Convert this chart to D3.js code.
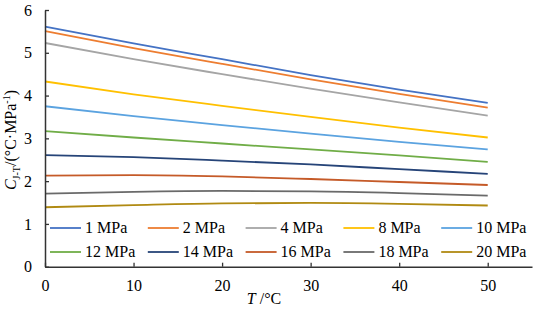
<!DOCTYPE html>
<html>
<head>
<meta charset="utf-8">
<script src="https://cdn.jsdelivr.net/npm/d3@7"></script>
<style>
  body { margin: 0; background: #fff; }
  svg text { font-family: "Liberation Serif", "Times New Roman", serif; }
</style>
</head>
<body>
<div id="chart"></div>
<script>
const temps = [0, 10, 20, 30, 40, 50];
const pressures = ["1 MPa", "2 MPa", "4 MPa", "8 MPa", "10 MPa", "12 MPa", "14 MPa", "16 MPa", "18 MPa", "20 MPa"];
const p1 = [5.61, 5.22, 4.85, 4.48, 4.14, 3.83];
const p2 = [5.51, 5.11, 4.74, 4.38, 4.04, 3.72];
const p4 = [5.23, 4.85, 4.50, 4.16, 3.84, 3.53];
const p8 = [4.33, 4.03, 3.76, 3.50, 3.25, 3.02];
const p10 = [3.75, 3.52, 3.31, 3.11, 2.92, 2.74];
const p12 = [3.17, 3.02, 2.88, 2.74, 2.60, 2.45];
const p14 = [2.61, 2.56, 2.48, 2.39, 2.28, 2.17];
const p16 = [2.13, 2.14, 2.11, 2.05, 1.98, 1.91];
const p18 = [1.71, 1.75, 1.77, 1.76, 1.72, 1.66];
const p20 = [1.39, 1.44, 1.48, 1.49, 1.47, 1.43];
const seriesValues = [p1, p2, p4, p8, p10, p12, p14, p16, p18, p20];
const colors = ["#4472C4", "#ED7D31", "#A5A5A5", "#FFC000", "#5BA3E0",
                "#70AD47", "#264478", "#C55A28", "#6A6A6A", "#B08A12"];
const xTicks = [0, 10, 20, 30, 40, 50];
const yTicks = [0, 1, 2, 3, 4, 5, 6];

const W = 533, H = 309;
const svg = d3.select("#chart").append("svg").attr("width", W).attr("height", H);

const x = d3.scaleLinear().domain([0, 55]).range([45, 532]);
const y = d3.scaleLinear().domain([0, 6]).range([266.7, 10]);

// lines
const line = d3.line()
  .x((d, i) => x(temps[i]))
  .y(d => y(d))
  .curve(d3.curveMonotoneX);

seriesValues.forEach((vals, k) => {
  svg.append("path")
    .datum(vals)
    .attr("fill", "none")
    .attr("stroke", colors[k])
    .attr("stroke-width", 1.8)
    .attr("d", line);
});

// axes
const axisColor = "#333";
const xAxis = svg.append("g")
  .attr("transform", `translate(0,${y(0)})`)
  .call(d3.axisBottom(x).tickValues(xTicks).tickFormat(d3.format("d"))
    .tickSize(-4).tickPadding(13).tickSizeOuter(0));
const yAxis = svg.append("g")
  .attr("transform", `translate(${x(0)},0)`)
  .call(d3.axisLeft(y).tickValues(yTicks).tickFormat(d3.format("d"))
    .tickSize(-4).tickPadding(13).tickSizeOuter(0));
[xAxis, yAxis].forEach(g => {
  g.attr("font-family", null);
  g.select(".domain").attr("stroke", axisColor).attr("stroke-width", 1.5);
  g.selectAll(".tick line").attr("stroke", axisColor).attr("stroke-width", 1.3);
  g.selectAll(".tick text").attr("fill", "#000").style("font-size", "16px");
});

// legend
const legend = svg.append("g");
pressures.forEach((p, k) => {
  const col = k % 5, row = Math.floor(k / 5);
  const lx = 50 + col * 97.8, ly = 228 + row * 24;
  legend.append("line")
    .attr("x1", lx).attr("x2", lx + 31)
    .attr("y1", ly).attr("y2", ly)
    .attr("stroke", colors[k]).attr("stroke-width", 1.8);
  legend.append("text")
    .attr("x", lx + 35).attr("y", ly + 5)
    .style("font-size", "16px")
    .attr("fill", "#000")
    .text(p);
});

// x label
const xl = svg.append("text")
  .attr("x", 264).attr("y", 304)
  .attr("text-anchor", "middle")
  .style("font-size", "16px");
xl.append("tspan").style("font-style", "italic").text("T");
xl.append("tspan").text(" /°C");

// y label
const yl = svg.append("text")
  .attr("transform", `translate(16,140) rotate(-90)`)
  .attr("text-anchor", "middle")
  .style("font-size", "16px");
yl.append("tspan").style("font-style", "italic").text("C");
yl.append("tspan").attr("dy", 4).style("font-size", "10px").text("J-T");
yl.append("tspan").attr("dy", -4).text("/(°C·MPa");
yl.append("tspan").attr("dy", -6).style("font-size", "10px").text("-1");
yl.append("tspan").attr("dy", 6).text(")");
</script>
</body>
</html>
